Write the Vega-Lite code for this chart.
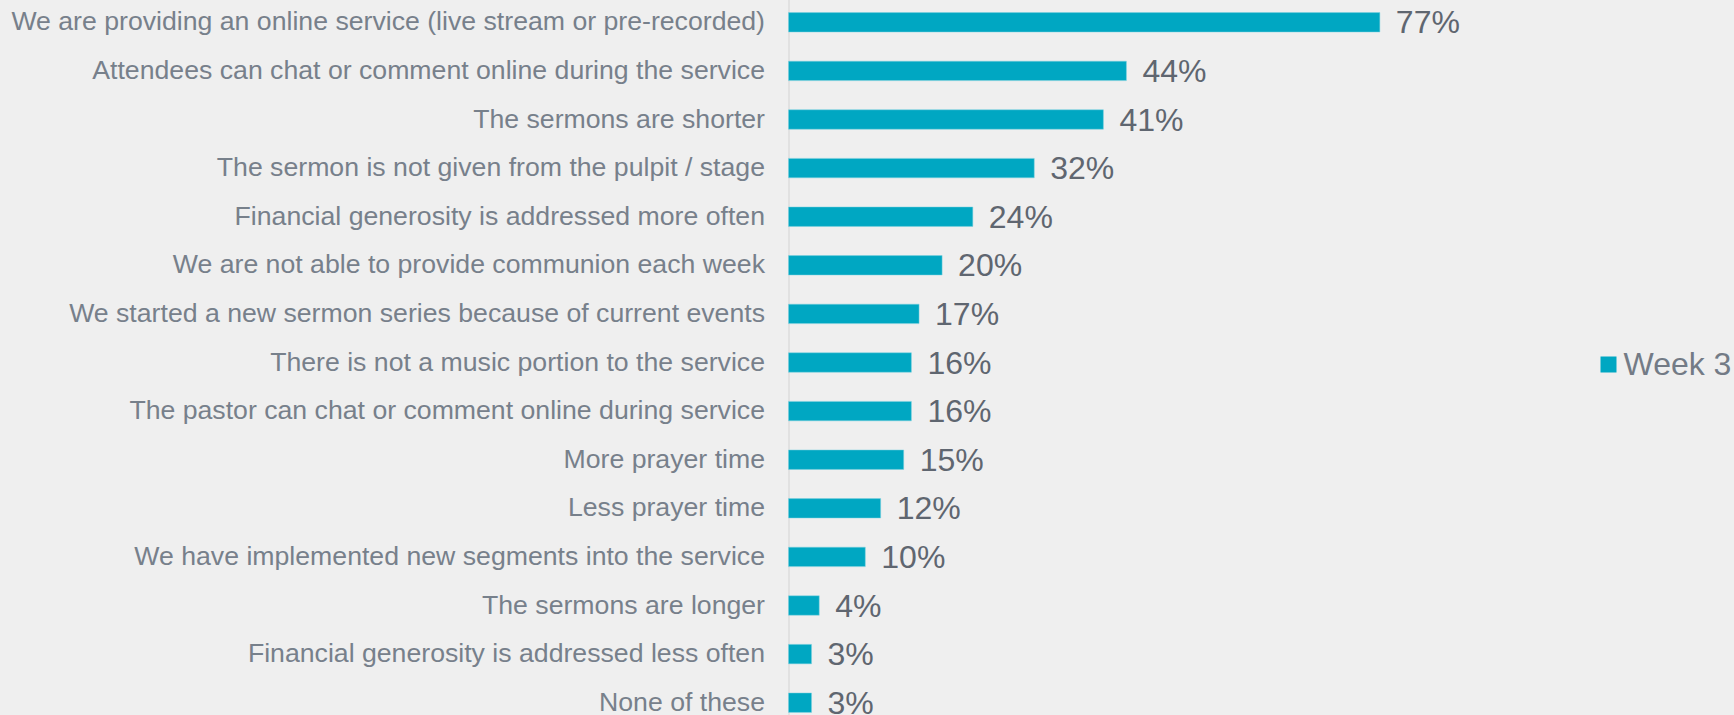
{
  "$schema": "https://vega.github.io/schema/vega-lite/v6.json",
  "width": 768,
  "height": 729,
  "autosize": {"type": "none"},
  "padding": {"left": 788.5, "top": -2, "right": 177.5, "bottom": -12},
  "background": "#EFEFEF",
  "config": {"view": {"stroke": null}, "font": "Liberation Sans"},
  "data": {
    "values": [
      {"item": "We are providing an online service (live stream or pre-recorded)", "value": 0.77, "series": "Week 3"},
      {"item": "Attendees can chat or comment online during the service", "value": 0.44, "series": "Week 3"},
      {"item": "The sermons are shorter", "value": 0.41, "series": "Week 3"},
      {"item": "The sermon is not given from the pulpit / stage", "value": 0.32, "series": "Week 3"},
      {"item": "Financial generosity is addressed more often", "value": 0.24, "series": "Week 3"},
      {"item": "We are not able to provide communion each week", "value": 0.20, "series": "Week 3"},
      {"item": "We started a new sermon series because of current events", "value": 0.17, "series": "Week 3"},
      {"item": "There is not a music portion to the service", "value": 0.16, "series": "Week 3"},
      {"item": "The pastor can chat or comment online during service", "value": 0.16, "series": "Week 3"},
      {"item": "More prayer time", "value": 0.15, "series": "Week 3"},
      {"item": "Less prayer time", "value": 0.12, "series": "Week 3"},
      {"item": "We have implemented new segments into the service", "value": 0.10, "series": "Week 3"},
      {"item": "The sermons are longer", "value": 0.04, "series": "Week 3"},
      {"item": "Financial generosity is addressed less often", "value": 0.03, "series": "Week 3"},
      {"item": "None of these", "value": 0.03, "series": "Week 3"}
    ]
  },
  "encoding": {
    "y": {
      "field": "item",
      "type": "nominal",
      "sort": null,
      "scale": {"paddingInner": 0.6, "paddingOuter": 0.3},
      "axis": {
        "title": null,
        "ticks": false,
        "domain": true,
        "domainColor": "#DCDCDC",
        "domainWidth": 1.5,
        "labelPadding": 24,
        "labelFontSize": 26.67,
        "labelColor": "#77808B",
        "labelLimit": 1000,
        "grid": false
      }
    },
    "x": {
      "field": "value",
      "type": "quantitative",
      "scale": {"domain": [0, 1]},
      "axis": null
    }
  },
  "layer": [
    {
      "mark": {"type": "bar", "stroke": "#7FD3E0", "strokeWidth": 0.5},
      "encoding": {
        "color": {
          "field": "series",
          "type": "nominal",
          "scale": {"range": ["#00A7C2"]},
          "legend": {
            "orient": "none",
            "legendX": 804,
            "legendY": 350.5,
            "title": null,
            "symbolType": "square",
            "symbolSize": 256,
            "symbolStrokeWidth": 0,
            "labelFontSize": 32,
            "labelColor": "#737B86",
            "labelOffset": -1,
            "padding": 0
          }
        }
      }
    },
    {
      "mark": {"type": "text", "align": "left", "baseline": "middle", "dx": 16, "dy": 1, "fontSize": 32, "color": "#5F6670"},
      "encoding": {
        "text": {"field": "value", "type": "quantitative", "format": ".0%"}
      }
    }
  ]
}
